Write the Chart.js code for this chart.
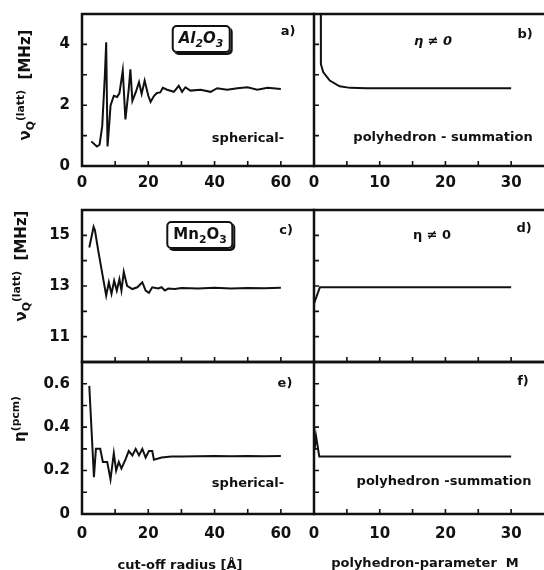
<!DOCTYPE html>
<html><head><meta charset="utf-8">
<script src="https://cdn.jsdelivr.net/npm/chart.js@4/dist/chart.umd.min.js"></script>
<style>
html,body{margin:0;padding:0;background:#fff}
body{width:544px;height:570px;overflow:hidden;position:relative;font-family:"DejaVu Sans",sans-serif;font-weight:bold;color:#111}
canvas{position:absolute}
.t{position:absolute;white-space:nowrap;transform:translate(-50%,-50%);font-size:13px;line-height:1}
.r{transform:translate(-50%,-50%) rotate(-90deg);font-size:15px}
.box{border:2px solid #111;border-radius:5px;box-shadow:2px 2px 0 #111;padding:4px 5px 5px 5px;font-size:15px}
sub,sup{font-size:72%;line-height:0}
</style></head><body>
<script>
// ---- data ----
const radiusA = [2.8,4.5,5.3,6.1,6.9,7.3,7.7,8.1,8.6,9.6,10.6,11.3,12.3,13.1,14.1,14.6,15.2,16.2,17.2,18,18.9,20,20.7,21.7,22.6,23.6,24.4,25.7,27.7,29.2,30.2,31.2,32.7,35.8,38.8,40.8,43.8,46.9,49.9,52.9,56,60];
const nuA = [0.81,0.64,0.7,1.31,2.98,4.07,0.64,1.2,1.98,2.31,2.27,2.4,3.14,1.53,2.53,3.18,2.14,2.42,2.76,2.37,2.81,2.31,2.11,2.3,2.4,2.42,2.57,2.51,2.44,2.64,2.44,2.59,2.48,2.51,2.44,2.56,2.51,2.56,2.59,2.51,2.57,2.53];

const paramB = [1,1.05,1.4,2.4,3.9,5.5,8,30];
const nuB = [9,3.35,3.09,2.81,2.62,2.57,2.56,2.56];

const radiusC = [2.2,3.5,3.9,5.0,7.3,8.1,8.9,9.7,10.5,11.3,11.9,12.6,13.6,15.2,16.7,18.2,19.2,20.2,21.2,23,24,25,26,28,30,35,40,45,50,55,60];
const nuC = [14.52,15.34,15.2,14.32,12.62,13.15,12.69,13.21,12.82,13.27,12.82,13.56,13.01,12.88,12.95,13.15,12.82,12.73,12.95,12.9,12.95,12.82,12.9,12.88,12.92,12.9,12.93,12.9,12.92,12.91,12.93];

const paramD = [0,0.9,30];
const nuD = [12.3,12.95,12.95];

const radiusE = [2.2,3.6,4.2,5.5,6.3,7.6,8.6,9.6,10.3,11.1,11.9,13.1,14.1,15.2,16.2,17.2,18.2,19.2,20.2,21.2,21.7,24,27,30,35,40,45,50,55,60];
const etaE = [0.59,0.17,0.30,0.30,0.24,0.24,0.16,0.28,0.20,0.24,0.21,0.25,0.29,0.27,0.30,0.27,0.30,0.26,0.29,0.29,0.25,0.26,0.265,0.265,0.266,0.267,0.266,0.267,0.266,0.267];

const paramF = [0.1,0.3,0.8,30];
const etaF = [0.3,0.36,0.265,0.265];

const radiusTicks = [0,20,40,60];
const paramTicks = [0,10,20,30];
const nuTicksA = [0,2,4];
const nuTicksC = [11,13,15];
const etaTicks = [0,0.2,0.4,0.6];

// ---- drawing ----
const W = 60, P = 34, HB = 40;
const tickFont = {family:'"DejaVu Sans", sans-serif', weight:'bold', size:15};

const framePlugin = {
  id:'frame',
  afterDraw(chart){
    const {ctx, chartArea:a, scales:{x,y}} = chart;
    ctx.save();
    ctx.strokeStyle = '#111'; ctx.lineWidth = 2.5; ctx.lineCap = 'square';
    ctx.beginPath();
    ctx.moveTo(a.left, a.top); ctx.lineTo(a.right, a.top);
    ctx.moveTo(a.left, a.top); ctx.lineTo(a.left, a.bottom); ctx.lineTo(a.right, a.bottom);
    ctx.stroke();
    ctx.lineWidth = 1.6; ctx.lineCap = 'butt';
    ctx.beginPath();
    x.ticks.forEach(t => { const px = x.getPixelForValue(t.value); if (px > a.left+3 && px < a.right-3){ ctx.moveTo(px, a.bottom); ctx.lineTo(px, a.bottom-5);} });
    y.ticks.forEach(t => { const py = y.getPixelForValue(t.value); if (py > a.top+3 && py < a.bottom-3){ ctx.moveTo(a.left, py); ctx.lineTo(a.left+5, py);} });
    ctx.stroke();
    ctx.restore();
  }
};

function near(v, list){ return list.some(l => Math.abs(v-l) < 1e-6); }

function panel(c){
  const cw = W + c.width + P, ch = P + c.height + HB;
  const cv = document.createElement('canvas');
  cv.width = cw; cv.height = ch;
  cv.style.left = (c.left - W) + 'px'; cv.style.top = (c.top - P) + 'px';
  cv.style.width = cw + 'px'; cv.style.height = ch + 'px';
  document.body.appendChild(cv);
  new Chart(cv, {
    type:'scatter',
    data:{datasets:[{data:c.xs.map((x,i)=>({x:x, y:c.ys[i]})), showLine:true, borderColor:'#111', borderWidth:2, pointRadius:0, tension:0, fill:false}]},
    options:{
      responsive:false, animation:false, devicePixelRatio:1, events:[],
      layout:{padding:{top:P, right:P, left:0, bottom:0}},
      plugins:{legend:{display:false}, tooltip:{enabled:false}},
      scales:{
        x:{type:'linear', min:c.xMin, max:c.xMax, grid:{display:false, drawTicks:false}, border:{display:false},
           ticks:{stepSize:c.xStep, display:!!c.xLabels, padding:c.xPad||8, maxRotation:0, autoSkip:false, color:'#111', font:tickFont,
                  callback:(v)=> (c.xLabels && near(v, c.xLabels)) ? String(Math.round(v)) : ''},
           afterFit:(s)=>{ s.height = HB; }},
        y:{type:'linear', min:c.yMin, max:c.yMax, grid:{display:false, drawTicks:false}, border:{display:false},
           ticks:{stepSize:c.yStep, display:!!c.yLabels, padding:12, autoSkip:false, color:'#111', font:tickFont,
                  callback:(v)=> (c.yLabels && near(v, c.yLabels)) ? c.fmt(v) : ''},
           afterFit:(s)=>{ s.width = W; }}
      }
    },
    plugins:[framePlugin]
  });
}

const fmtInt = v => String(Math.round(v));
const fmt1 = v => Math.abs(v) < 1e-9 ? '0' : v.toFixed(1);

panel({left:82, top:14, width:232, height:152, xMin:0, xMax:70, xStep:10, xLabels:radiusTicks, xPad:8,
       yMin:0, yMax:5, yStep:1, yLabels:nuTicksA, fmt:fmtInt, xs:radiusA, ys:nuA});
panel({left:314, top:14, width:230, height:152, xMin:0, xMax:35, xStep:5, xLabels:paramTicks, xPad:8,
       yMin:0, yMax:5, yStep:1, yLabels:null, fmt:fmtInt, xs:paramB, ys:nuB});
panel({left:82, top:210, width:232, height:152, xMin:0, xMax:70, xStep:10, xLabels:null,
       yMin:10, yMax:16, yStep:1, yLabels:nuTicksC, fmt:fmtInt, xs:radiusC, ys:nuC});
panel({left:314, top:210, width:230, height:152, xMin:0, xMax:35, xStep:5, xLabels:null,
       yMin:10, yMax:16, yStep:1, yLabels:null, fmt:fmtInt, xs:paramD, ys:nuD});
panel({left:82, top:362, width:232, height:152, xMin:0, xMax:70, xStep:10, xLabels:radiusTicks, xPad:11,
       yMin:0, yMax:0.7, yStep:0.1, yLabels:etaTicks, fmt:fmt1, xs:radiusE, ys:etaE});
panel({left:314, top:362, width:230, height:152, xMin:0, xMax:35, xStep:5, xLabels:paramTicks, xPad:11,
       yMin:0, yMax:0.7, yStep:0.1, yLabels:null, fmt:fmt1, xs:paramF, ys:etaF});

// ---- text ----
const texts = [
  [25, 85, 'ν<sub>Q</sub><sup>(latt)</sup>&nbsp; [MHz]', 't r'],
  [21, 266, 'ν<sub>Q</sub><sup>(latt)</sup>&nbsp; [MHz]', 't r'],
  [20, 419, 'η<sup>(pcm)</sup>', 't r'],
  [201, 39, '<i>Al<sub>2</sub>O<sub>3</sub></i>', 't box'],
  [200, 235, 'Mn<sub>2</sub>O<sub>3</sub>', 't box'],
  [288, 30, 'a)', 't'],
  [525, 33, 'b)', 't'],
  [286, 229, 'c)', 't'],
  [524, 227, 'd)', 't'],
  [285, 382, 'e)', 't'],
  [523, 380, 'f)', 't'],
  [433, 40, '<i>η ≠ 0</i>', 't'],
  [432, 234, 'η ≠ 0', 't'],
  [248, 137, 'spherical-', 't'],
  [443, 136, 'polyhedron - summation', 't'],
  [248, 482, 'spherical-', 't'],
  [444, 480, 'polyhedron -summation', 't'],
  [180, 564, 'cut-off radius [Å]', 't'],
  [425, 562, 'polyhedron-parameter&nbsp; M', 't']
];
texts.forEach(([x,y,h,cls]) => {
  const d = document.createElement('div');
  d.className = cls; d.style.left = x+'px'; d.style.top = y+'px'; d.innerHTML = h;
  document.body.appendChild(d);
});
</script>
</body></html>
